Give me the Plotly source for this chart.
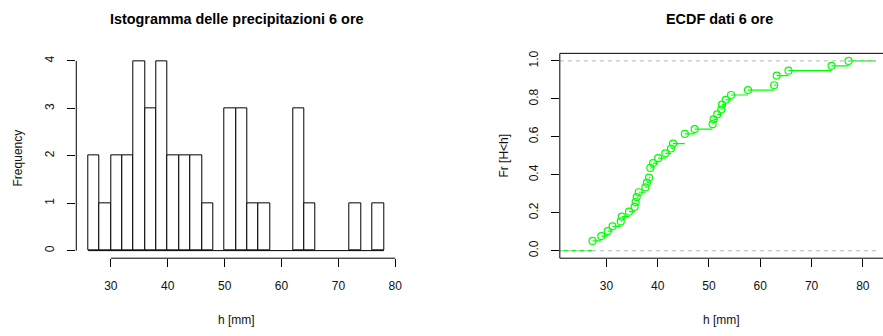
import numpy as np
import plotly.graph_objects as go

# 6-hour rainfall heights (mm), 39 observations
rain_6h_mm = [
    27.3, 27.3, 29.0, 30.25, 31.2, 32.8, 33.0, 34.4, 35.5, 35.7,
    35.9, 36.3, 37.6, 37.9, 38.3, 38.56, 38.56, 39.1, 40.1, 41.5,
    42.6, 43.0, 45.3, 45.3, 47.2, 50.7, 50.9, 51.6, 52.4, 52.55,
    53.25, 54.3, 57.6, 62.7, 63.2, 63.2, 65.5, 73.9, 77.2,
]

# histogram bins
BIN_START, BIN_END, BIN_SIZE = 26, 78, 2

hist_x_ticks = [30, 40, 50, 60, 70, 80]
hist_y_ticks = [0, 1, 2, 3, 4]
ecdf_x_ticks = [30, 40, 50, 60, 70, 80]
ecdf_y_ticks = [0.0, 0.2, 0.4, 0.6, 0.8, 1.0]
ecdf_y_labels = ["0.0", "0.2", "0.4", "0.6", "0.8", "1.0"]

W, H = 883, 336
FONT = "Liberation Sans, Arial, sans-serif"
GREEN = "#00ff00"

def px_x(p):
    return p / W

def px_y(p):
    return 1 - p / H

# panel geometry
Y_DOM = [px_y(257.5), px_y(50.8)]
HIST_X_DOM = [px_x(76.9), px_x(398.9)]
ECDF_X_DOM = [px_x(564.3), 1.0]
hist_xrange = [23.92, 80.08]
hist_yrange = [-0.16, 4.16]
ecdf_xrange = [20.92, 82.56]
ecdf_yrange = [-0.04, 1.04]

# empirical CDF at the distinct values
data = np.sort(np.array(rain_6h_mm))
n = len(data)
ux = np.unique(data)
Fx = np.array([np.sum(data <= v) / n for v in ux])

seg_x, seg_y = [], []
seg_x += [ecdf_xrange[0], ux[0], None]
seg_y += [0, 0, None]
for i in range(len(ux)):
    x_next = ux[i + 1] if i + 1 < len(ux) else ecdf_xrange[1] + 5
    seg_x += [ux[i], x_next, None]
    seg_y += [Fx[i], Fx[i], None]

fig = go.Figure()

fig.add_trace(go.Histogram(
    x=rain_6h_mm,
    xbins=dict(start=BIN_START, end=BIN_END, size=BIN_SIZE),
    marker=dict(color="white", line=dict(color="black", width=1)),
    xaxis="x", yaxis="y", hoverinfo="skip",
))

fig.add_trace(go.Scatter(
    x=seg_x, y=seg_y, mode="lines",
    line=dict(color=GREEN, width=1.2),
    xaxis="x2", yaxis="y2", hoverinfo="skip", cliponaxis=True,
))
fig.add_trace(go.Scatter(
    x=ux, y=Fx, mode="markers",
    marker=dict(symbol="circle-open", size=7, color=GREEN, line=dict(width=1.2)),
    xaxis="x2", yaxis="y2", hoverinfo="skip",
))
# reference lines at 0 and 1
for level in (0, 1):
    fig.add_trace(go.Scatter(
        x=[ecdf_xrange[0], ecdf_xrange[1] + 5], y=[level, level], mode="lines",
        line=dict(color="#c4c4c4", width=1.2, dash="4px,4px"),
        xaxis="x2", yaxis="y2", hoverinfo="skip",
    ))

axis_common = dict(
    showgrid=False, zeroline=False, showline=False,
    ticks="outside", ticklen=8, tickwidth=1, tickcolor="black",
    tickfont=dict(family=FONT, size=12, color="#111"),
    fixedrange=True,
)

shapes = [
    # histogram axes
    dict(type="line", xref="x", yref="paper", x0=hist_x_ticks[0], x1=hist_x_ticks[-1],
         y0=Y_DOM[0], y1=Y_DOM[0], line=dict(color="black", width=1)),
    dict(type="line", xref="paper", yref="y", x0=HIST_X_DOM[0], x1=HIST_X_DOM[0],
         y0=hist_y_ticks[0], y1=hist_y_ticks[-1], line=dict(color="black", width=1)),
    # histogram baseline across empty bins
    dict(type="line", xref="x", yref="y", x0=BIN_START, x1=BIN_END, y0=0, y1=0,
         line=dict(color="black", width=1)),
    # ECDF frame
    dict(type="rect", xref="paper", yref="paper", x0=ECDF_X_DOM[0], x1=1.02,
         y0=Y_DOM[0], y1=Y_DOM[1], line=dict(color="black", width=1)),
]

annotations = [
    dict(text="<b>Istogramma delle precipitazioni 6 ore</b>", x=px_x(239), y=px_y(16),
         xref="paper", yref="paper", showarrow=False, xanchor="center", yanchor="middle",
         font=dict(family=FONT, size=14.4, color="black")),
    dict(text="<b>ECDF dati 6 ore</b>", x=px_x(725), y=px_y(16),
         xref="paper", yref="paper", showarrow=False, xanchor="center", yanchor="middle",
         font=dict(family=FONT, size=14.4, color="black")),
    dict(text="h [mm]", x=px_x(238), y=px_y(320), xref="paper", yref="paper",
         showarrow=False, xanchor="center", yanchor="middle",
         font=dict(family=FONT, size=12, color="#111")),
    dict(text="h [mm]", x=px_x(727), y=px_y(320), xref="paper", yref="paper",
         showarrow=False, xanchor="center", yanchor="middle",
         font=dict(family=FONT, size=12, color="#111")),
    dict(text="Frequency", x=px_x(18), y=px_y(156), xref="paper", yref="paper",
         showarrow=False, textangle=-90, xanchor="center", yanchor="middle",
         font=dict(family=FONT, size=12, color="#111")),
    dict(text="Fr [H&lt;h]", x=px_x(508), y=px_y(154), xref="paper", yref="paper",
         showarrow=False, textangle=-90, xanchor="center", yanchor="middle",
         font=dict(family=FONT, size=12, color="#111")),
]

fig.update_layout(
    width=W, height=H,
    margin=dict(l=0, r=0, t=0, b=0),
    paper_bgcolor="white", plot_bgcolor="white",
    showlegend=False, bargap=0,
    xaxis=dict(domain=HIST_X_DOM, range=hist_xrange, tickvals=hist_x_ticks,
               anchor="y", ticklabelstandoff=8, **axis_common),
    yaxis=dict(domain=Y_DOM, range=hist_yrange, tickvals=hist_y_ticks,
               anchor="x", tickangle=-90, ticklabelstandoff=8, **axis_common),
    xaxis2=dict(domain=ECDF_X_DOM, range=ecdf_xrange, tickvals=ecdf_x_ticks,
                anchor="y2", ticklabelstandoff=8, **axis_common),
    yaxis2=dict(domain=Y_DOM, range=ecdf_yrange, tickvals=ecdf_y_ticks,
                ticktext=ecdf_y_labels, anchor="x2", tickangle=-90,
                ticklabelstandoff=8, **axis_common),
    shapes=shapes, annotations=annotations,
)

fig.write_html("out.html", config={"displayModeBar": False})
